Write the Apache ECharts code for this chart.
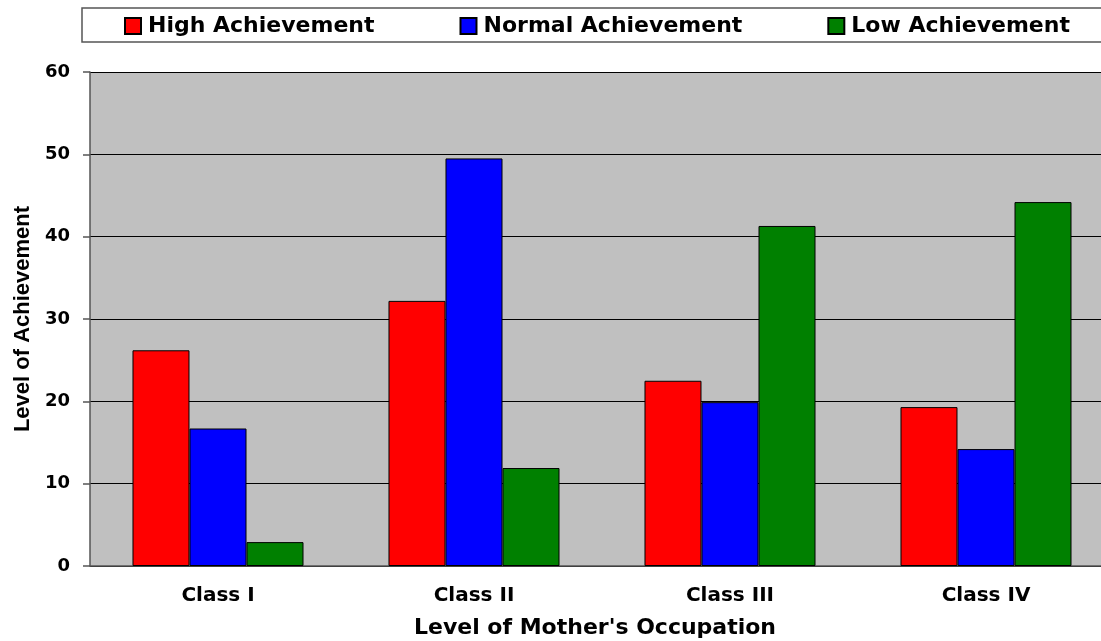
<!DOCTYPE html>
<html>
<head>
<meta charset="utf-8">
<script src="https://cdn.jsdelivr.net/npm/echarts@6/dist/echarts.min.js"></script>
<style>html,body{margin:0;padding:0;background:#fff;overflow:hidden}#c{width:1101px;height:641px}</style>
</head>
<body>
<div id="c"></div>
<script>
var categories = ['Class I', 'Class II', 'Class III', 'Class IV'];
var highAchievement = [26.2, 32.2, 22.5, 19.3];
var normalAchievement = [16.7, 49.5, 19.9, 14.2];
var lowAchievement = [2.9, 11.9, 41.3, 44.2];
var seriesNames = ['High Achievement', 'Normal Achievement', 'Low Achievement'];

var FONT = 'DejaVu Sans';
var chart = echarts.init(document.getElementById('c'), null, {renderer: 'canvas'});
function bar(name, data, color) {
  return {
    name: name, type: 'bar', data: data,
    barGap: '0%', barCategoryGap: '33.2%',
    itemStyle: {color: color, borderColor: '#000', borderWidth: 1}
  };
}
chart.setOption({
  animation: false,
  backgroundColor: '#fff',
  graphic: [{
    type: 'rect', z: -1,
    shape: {x: 82, y: 8, width: 1030, height: 34},
    style: {fill: '#fff', stroke: '#555', lineWidth: 1.5}
  }],
  legend: {
    left: 124, top: 15, padding: 0,
    itemWidth: 16, itemHeight: 16, itemGap: 85,
    icon: 'rect',
    textStyle: {fontFamily: FONT, fontWeight: 'bold', fontSize: 22, color: '#000', padding: [0, 0, 0, 2]},
    data: seriesNames
  },
  grid: {left: 90, right: -13, top: 72, bottom: 75, show: true, backgroundColor: '#c0c0c0', borderWidth: 0,
         containLabel: false, outerBoundsMode: 'none'},
  xAxis: {
    type: 'category', data: categories,
    axisLine: {lineStyle: {color: '#555', width: 1.5}},
    axisTick: {length: 6, lineStyle: {color: '#555', width: 1.5}},
    axisLabel: {fontFamily: FONT, fontWeight: 'bold', fontSize: 20, color: '#000', margin: 20},
    name: "Level of Mother's Occupation",
    nameLocation: 'middle', nameGap: 51,
    nameTextStyle: {fontFamily: FONT, fontWeight: 'bold', fontSize: 22, color: '#000', padding: [0, 14, 0, 0]}
  },
  yAxis: {
    type: 'value', min: 0, max: 60, interval: 10,
    axisLine: {show: true, lineStyle: {color: '#555', width: 1.5}},
    axisTick: {show: true, length: 7, lineStyle: {color: '#555', width: 1.5}},
    axisLabel: {fontFamily: FONT, fontWeight: 'bold', fontSize: 18, color: '#000', margin: 20},
    splitLine: {lineStyle: {color: '#000', width: 1}},
    name: 'Level of Achievement',
    nameLocation: 'middle', nameGap: 56,
    nameTextStyle: {fontFamily: 'Liberation Sans', fontWeight: 'bold', fontSize: 22, color: '#000'}
  },
  series: [
    bar(seriesNames[0], highAchievement, '#ff0000'),
    bar(seriesNames[1], normalAchievement, '#0000ff'),
    bar(seriesNames[2], lowAchievement, '#008000')
  ]
});
</script>
</body>
</html>
